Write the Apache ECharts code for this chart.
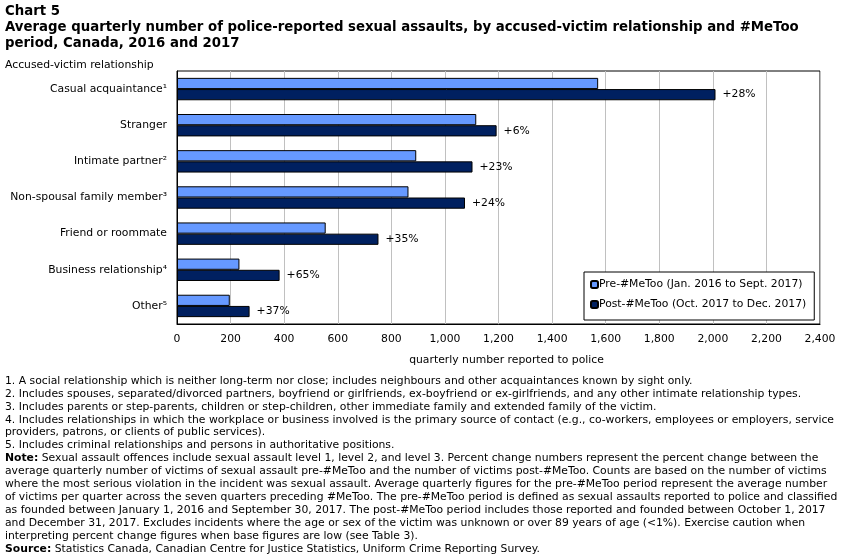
<!DOCTYPE html>
<html>
<head>
<meta charset="utf-8">
<script src="https://cdn.jsdelivr.net/npm/echarts@6/dist/echarts.min.js"></script>
<style>
html, body { margin: 0; padding: 0; background: #fff; }
#chart { width: 851px; height: 560px; }
</style>
</head>
<body>
<div id="chart"></div>
<script>
// categories (top to bottom)
var categories = ['Casual acquaintance¹', 'Stranger', 'Intimate partner²', 'Non-spousal family member³',
	'Friend or roommate', 'Business relationship⁴', 'Other⁵'];
var preValues = [1572, 1117, 893, 864, 555, 233, 197];
var postValues = [2010, 1193, 1103, 1075, 752, 383, 271];
var changeLabels = ['+28%', '+6%', '+23%', '+24%', '+35%', '+65%', '+37%'];
var seriesNames = ['Pre-#MeToo (Jan. 2016 to Sept. 2017)', 'Post-#MeToo (Oct. 2017 to Dec. 2017)'];

var footnotes = [
	'1. A social relationship which is neither long-term nor close; includes neighbours and other acquaintances known by sight only.',
	'2. Includes spouses, separated/divorced partners, boyfriend or girlfriends, ex-boyfriend or ex-girlfriends, and any other intimate relationship types.',
	'3. Includes parents or step-parents, children or step-children, other immediate family and extended family of the victim.',
	'4. Includes relationships in which the workplace or business involved is the primary source of contact (e.g., co-workers, employees or employers, service',
	'providers, patrons, or clients of public services).',
	'5. Includes criminal relationships and persons in authoritative positions.',
	'{b|Note:} Sexual assault offences include sexual assault level 1, level 2, and level 3. Percent change numbers represent the percent change between the',
	'average quarterly number of victims of sexual assault pre-#MeToo and the number of victims post-#MeToo. Counts are based on the number of victims',
	'where the most serious violation in the incident was sexual assault. Average quarterly figures for the pre-#MeToo period represent the average number',
	'of victims per quarter across the seven quarters preceding #MeToo. The pre-#MeToo period is defined as sexual assaults reported to police and classified',
	'as founded between January 1, 2016 and September 30, 2017. The post-#MeToo period includes those reported and founded between October 1, 2017',
	'and December 31, 2017. Excludes incidents where the age or sex of the victim was unknown or over 89 years of age (<1%). Exercise caution when',
	'interpreting percent change figures when base figures are low (see Table 3).',
	'{b|Source:} Statistics Canada, Canadian Centre for Justice Statistics, Uniform Crime Reporting Survey.'
];

var FONT = '"DejaVu Sans", sans-serif';

var graphics = [
	{ type: 'text', left: 5, top: 5, style: { text: 'Chart 5', font: 'bold 13.3px ' + FONT, fill: '#000' } },
	{ type: 'text', left: 5, top: 21, style: { text: 'Average quarterly number of police-reported sexual assaults, by accused-victim relationship and #MeToo', font: 'bold 13.3px ' + FONT, fill: '#000' } },
	{ type: 'text', left: 5, top: 37, style: { text: 'period, Canada, 2016 and 2017', font: 'bold 13.3px ' + FONT, fill: '#000' } },
	{ type: 'text', left: 5, top: 60, style: { text: 'Accused-victim relationship', font: '10.8px ' + FONT, fill: '#000' } }
];
footnotes.forEach(function (line, i) {
	graphics.push({
		type: 'text', left: 5, top: 375.5 + i * 12.9,
		style: {
			text: line, fontFamily: FONT, fontSize: 10.8, fill: '#000',
			rich: { b: { fontWeight: 'bold', fontFamily: FONT, fontSize: 10.8 } }
		}
	});
});

var myChart = echarts.init(document.getElementById('chart'));
var option = {
	animation: false,
	textStyle: { fontFamily: FONT },
	grid: {
		left: 177, right: 31, top: 71, bottom: 236,
		show: true, borderColor: '#000', borderWidth: 1, containLabel: false
	},
	legend: {
		orient: 'vertical',
		left: 584, top: 272,
		padding: [7, 8, 10, 6],
		itemGap: 9,
		itemWidth: 7, itemHeight: 7,
		borderColor: '#000', borderWidth: 1,
		backgroundColor: '#fff',
		textStyle: { fontSize: 10.8, color: '#000', fontFamily: FONT, padding: [0, 0, 0, -4] },
		data: seriesNames
	},
	xAxis: {
		type: 'value',
		min: 0, max: 2400, interval: 200,
		name: 'quarterly number reported to police',
		nameLocation: 'middle',
		nameGap: 31,
		nameTextStyle: { fontSize: 10.8, color: '#000', fontFamily: FONT, padding: [0, 0, 0, 16] },
		axisLine: { show: true, lineStyle: { color: '#000' } },
		axisTick: { show: false },
		axisLabel: {
			fontSize: 10.8, color: '#000', margin: 10,
			formatter: function (v) { return v.toLocaleString('en-US'); }
		},
		splitLine: { show: true, lineStyle: { color: '#c0c0c0', width: 1 } }
	},
	yAxis: {
		type: 'category',
		inverse: true,
		data: categories,
		axisLine: { show: true, lineStyle: { color: '#000' } },
		axisTick: { show: false },
		axisLabel: { fontSize: 10.8, color: '#000', margin: 10 }
	},
	series: [
		{
			name: seriesNames[0],
			type: 'bar',
			data: preValues,
			barGap: '0%',
			barCategoryGap: '38%',
			itemStyle: { color: '#6699ff', borderColor: '#000', borderWidth: 1 }
		},
		{
			name: seriesNames[1],
			type: 'bar',
			data: postValues,
			barGap: '0%',
			barCategoryGap: '38%',
			itemStyle: { color: '#002060', borderColor: '#000', borderWidth: 1 },
			label: {
				show: true, position: 'right', distance: 7,
				fontSize: 10.8, color: '#000', fontFamily: FONT,
				formatter: function (p) { return changeLabels[p.dataIndex]; }
			}
		}
	],
	graphic: graphics
};
myChart.setOption(option);
</script>
</body>
</html>
